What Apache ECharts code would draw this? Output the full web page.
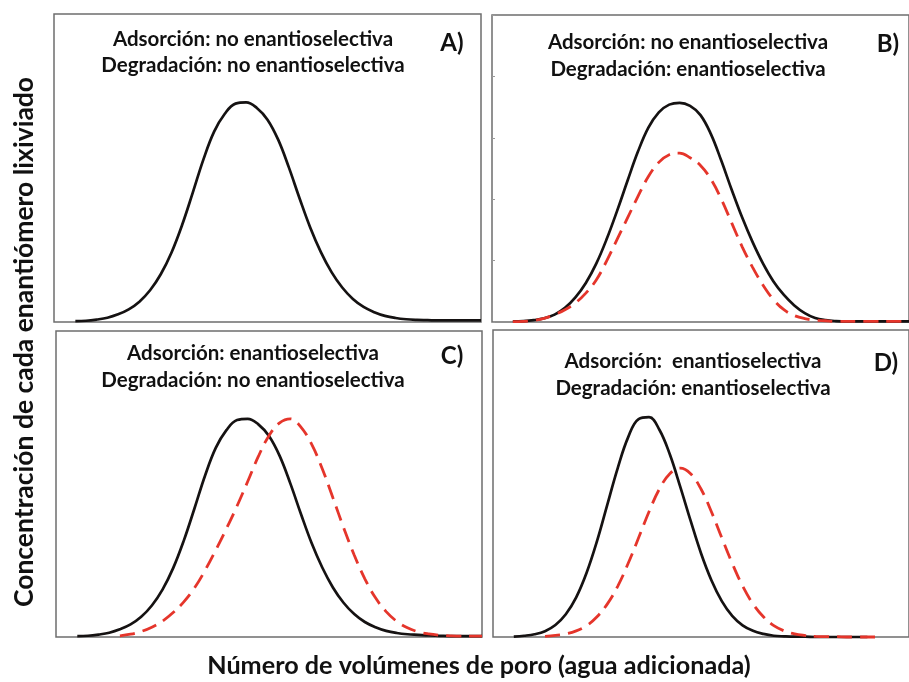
<!DOCTYPE html>
<html>
<head>
<meta charset="utf-8">
<script src="https://cdn.jsdelivr.net/npm/echarts@6/dist/echarts.min.js"></script>
<style>
html,body{margin:0;padding:0;background:#fff;}
#chart{width:909px;height:682px;}
</style>
</head>
<body>
<div id="chart"></div>
<script>
// sampling positions along the pore-volume axis (arbitrary units 0..10)
const xs = [0.5,0.75,1.0,1.25,1.5,1.75,2.0,2.25,2.5,2.75,3.0,3.25,3.5,3.75,4.0,4.25,4.5,4.75,5.0,5.25,5.5,5.75,6.0,6.25,6.5,6.75,7.0,7.25,7.5,7.75,8.0,8.25,8.5,8.75,9.0,9.25,9.5,9.75,10.0];

// Panel A
const aBlack = [0.003,0.004,0.008,0.014,0.025,0.041,0.066,0.103,0.155,0.225,0.315,0.420,0.528,0.618,0.676,0.709,0.713,0.695,0.657,0.592,0.502,0.402,0.307,0.227,0.162,0.112,0.075,0.049,0.032,0.020,0.013,0.009,0.007,0.006,0.005,0.005,0.005,0.005,0.005];
// Panel B
const bBlack = [0.002,0.003,0.006,0.012,0.024,0.046,0.080,0.127,0.190,0.270,0.362,0.460,0.555,0.633,0.683,0.708,0.714,0.704,0.674,0.612,0.525,0.430,0.340,0.260,0.190,0.132,0.088,0.054,0.029,0.013,0.006,0.003,0.002,0.002,0.002,0.002,0.002,0.002,0.002];
const bRed   = [0.001,0.002,0.005,0.012,0.024,0.040,0.062,0.094,0.137,0.199,0.269,0.339,0.409,0.474,0.520,0.545,0.550,0.535,0.510,0.465,0.400,0.322,0.245,0.178,0.120,0.073,0.040,0.021,0.011,0.006,0.004,0.002,0.002,0.002,0.002,0.002,0.002,0.002,0.002];
// Panel C
const cBlack = [0.003,0.004,0.008,0.014,0.025,0.041,0.066,0.103,0.155,0.225,0.315,0.420,0.528,0.618,0.676,0.709,0.713,0.695,0.657,0.592,0.502,0.402,0.307,0.227,0.162,0.112,0.075,0.049,0.032,0.020,0.013,0.009,0.007,0.005,0.004,0.003,0.003,0.003,0.003];
const cRed   = [null,null,null,null,0.004,0.009,0.018,0.032,0.052,0.080,0.115,0.160,0.218,0.284,0.354,0.428,0.508,0.590,0.658,0.700,0.713,0.686,0.630,0.550,0.455,0.358,0.268,0.190,0.128,0.083,0.051,0.030,0.017,0.010,0.006,0.004,0.003,0.003,0.003];
// Panel D
const dBlack = [0.001,0.004,0.009,0.019,0.039,0.074,0.129,0.209,0.312,0.432,0.551,0.651,0.710,0.716,0.675,0.595,0.490,0.379,0.273,0.185,0.117,0.069,0.038,0.020,0.010,0.004,0.002,0.001,0.001,0,0,0,0,0,0,null,null,null,null];
const dRed   = [null,null,null,0.002,0.005,0.010,0.020,0.037,0.066,0.108,0.166,0.240,0.323,0.408,0.482,0.532,0.550,0.532,0.482,0.408,0.323,0.240,0.166,0.108,0.066,0.037,0.020,0.010,0.005,0.002,0.001,0.001,0,0,0,0,null,null,null];

const panelLines = [
  ['Adsorción: no enantioselectiva', 'Degradación: no enantioselectiva', 'A)'],
  ['Adsorción: no enantioselectiva', 'Degradación: enantioselectiva', 'B)'],
  ['Adsorción: enantioselectiva', 'Degradación: no enantioselectiva', 'C)'],
  ['Adsorción:  enantioselectiva', 'Degradación: enantioselectiva', 'D)']
];
const yTitle = 'Concentración de cada enantiómero lixiviado';
const xTitle = 'Número de volúmenes de poro (agua adicionada)';

function pairs(ys){ return xs.map((x,i)=>[x, ys[i]]); }

const FONT = 'Lato';
const grids = [
  {left:54, top:14, width:427, height:308},
  {left:492, top:15, width:427, height:307},
  {left:56, top:331, width:426, height:306},
  {left:493, top:330, width:427, height:307}
];
const textPos = [
  {cx:253, y1:39, y2:65, lx:452, ly:43},
  {cx:688, y1:42, y2:69, lx:888, ly:44},
  {cx:253, y1:353, y2:380, lx:452, ly:356},
  {cx:693, y1:361, y2:388, lx:886, ly:363}
];

function txt(x, y, text, size, extra){
  return Object.assign({type:'text', x:x, y:y, style:{text:text, font:'bold '+size+'px '+FONT, fill:'#111',
    textAlign:'center', textVerticalAlign:'middle', align:'center', verticalAlign:'middle'}}, extra||{});
}

const option = {
  backgroundColor:'#fff',
  animation:false,
  grid: grids.map(g=>Object.assign({show:true, borderColor:'#6e6e6e', borderWidth:1.5, backgroundColor:'#fff'}, g)),
  xAxis: grids.map((g,i)=>({type:'value', gridIndex:i, min:0, max:10, show:false})),
  yAxis: grids.map((g,i)=>({
    type:'value', gridIndex:i, min:0, max:1, interval:0.2,
    axisLine:{show:false}, axisLabel:{show:false}, splitLine:{show:false},
    axisTick:{show: i===1, inside:true, length:3, lineStyle:{color:'#999', width:1}}
  })),
  series: [
    {data:pairs(aBlack), idx:0, red:false},
    {data:pairs(bBlack), idx:1, red:false},
    {data:pairs(bRed), idx:1, red:true},
    {data:pairs(cBlack), idx:2, red:false},
    {data:pairs(cRed), idx:2, red:true},
    {data:pairs(dBlack), idx:3, red:false},
    {data:pairs(dRed), idx:3, red:true}
  ].map(s=>({
    type:'line', xAxisIndex:s.idx, yAxisIndex:s.idx, data:s.data,
    smooth:0.4, showSymbol:false, connectNulls:false, clip:false,
    z: s.red ? 4 : 3,
    lineStyle: s.red ? {color:'#e5352b', width:2.8, type:[15,8]} : {color:'#151212', width:2.7}
  })),
  graphic: [].concat(
    ...panelLines.map((p,i)=>{
      const t = textPos[i];
      return [
        txt(t.cx, t.y1, p[0], 20.5),
        txt(t.cx, t.y2, p[1], 20.5),
        txt(t.lx, t.ly, p[2], 24)
      ];
    }),
    [
      txt(24, 342, yTitle, 26.5, {rotation:Math.PI/2}),
      txt(479, 666, xTitle, 25.2)
    ]
  )
};
const chart = echarts.init(document.getElementById('chart'), null, {renderer:'canvas'});
chart.setOption(option);
</script>
</body>
</html>
